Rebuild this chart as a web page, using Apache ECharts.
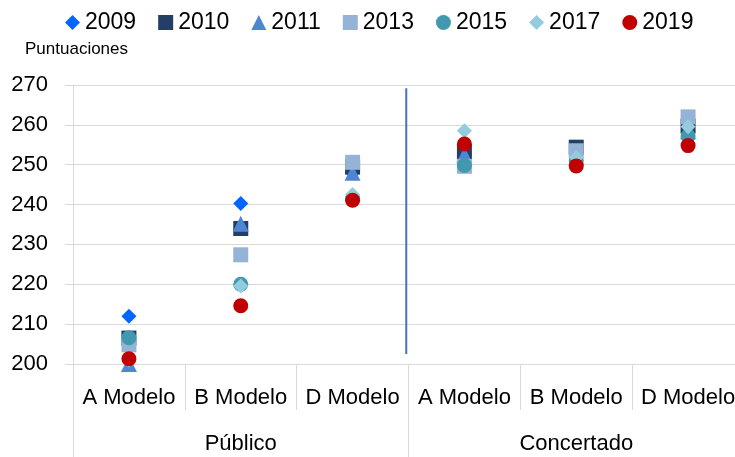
<!DOCTYPE html>
<html>
<head>
<meta charset="utf-8">
<title>Puntuaciones por modelo</title>
<script src="https://cdn.jsdelivr.net/npm/echarts@6/dist/echarts.min.js"></script>
<style>
  html, body { margin: 0; padding: 0; background: #fff; overflow: hidden; }
  /* the original's last column runs a few pixels past the right edge */
  #chart { width: 744px; height: 457px; }
</style>
</head>
<body>
<div id="chart"></div>
<script>
// ============================================================================
// Data
// ============================================================================

const models = ['A Modelo', 'B Modelo', 'D Modelo', 'A Modelo', 'B Modelo', 'D Modelo'];
const groups = ['Público', 'Concertado'];

const years = ['2009', '2010', '2011', '2013', '2015', '2017', '2019'];

// one value per model column, left to right
const s2009 = [212.0, 240.3, 248.0, 252.6, 253.2, 258.5];
const s2010 = [206.5, 234.0, 249.4, 253.3, 254.4, 259.7];
const s2011 = [200.0, 235.2, 248.0, 252.5, 251.8, 258.4];
const s2013 = [204.8, 227.4, 250.6, 249.6, 253.5, 262.0];
const s2015 = [206.6, 220.0, 241.5, 249.8, 251.0, 257.2];
const s2017 = [201.0, 219.6, 242.5, 258.5, 251.8, 259.5];
const s2019 = [201.3, 214.6, 241.1, 255.2, 249.7, 254.8];

// separator between Público and Concertado (position on a 0..6 column scale)
const separatorX = 2.98;
const separatorY = [269.2, 202.5];

const yTicks = { min: 200, max: 270, step: 10 };

// ============================================================================
// Styling
// ============================================================================

const FONT = 'Liberation Sans';
const GRID_GRAY = '#D9D9D9';

const SERIES_STYLE = [
  { data: s2009, symbol: 'diamond',  size: 15, color: '#0066FF' },
  { data: s2010, symbol: 'rect',     size: 15, color: '#243F66' },
  { data: s2011, symbol: 'triangle', size: 16, color: '#4F86D4' },
  { data: s2013, symbol: 'rect',     size: 15, color: '#95B3D7' },
  { data: s2015, symbol: 'circle',   size: 15, color: '#4198AF' },
  { data: s2017, symbol: 'diamond',  size: 15, color: '#93CDDD' },
  { data: s2019, symbol: 'circle',   size: 15, color: '#C00000' }
];

// ============================================================================
// Chart
// ============================================================================

const chart = echarts.init(document.getElementById('chart'), null, { renderer: 'canvas' });

const scatterSeries = SERIES_STYLE.map((s, i) => ({
  name: years[i],
  type: 'scatter',
  xAxisIndex: 0,
  yAxisIndex: 0,
  symbol: s.symbol,
  symbolSize: s.size,
  itemStyle: { color: s.color, opacity: 1 },
  data: s.data,
  z: 3 + i
}));

const option = {
  animation: false,
  textStyle: { fontFamily: FONT },

  grid: {
    left: 73,
    right: 0,
    top: 85,
    bottom: 93
  },

  legend: {
    data: years,
    left: 60,
    top: 6,
    itemWidth: 15,
    itemHeight: 15,
    itemGap: 22,
    textStyle: { fontSize: 23, color: '#000', fontFamily: FONT }
  },

  title: {
    text: 'Puntuaciones',
    left: 20,
    top: 36,
    textStyle: { fontSize: 17, fontWeight: 'normal', color: '#000', fontFamily: FONT }
  },

  xAxis: [
    {
      // models
      type: 'category',
      data: models,
      position: 'bottom',
      offset: 0,
      boundaryGap: true,
      axisLine: { show: true, lineStyle: { color: GRID_GRAY, width: 1 } },
      axisTick: { show: true, length: 46, interval: 0, lineStyle: { color: GRID_GRAY } },
      axisLabel: { interval: 0, margin: 23, fontSize: 22, color: '#000', fontFamily: FONT }
    },
    {
      // groups
      type: 'category',
      data: groups,
      position: 'bottom',
      offset: 0,
      boundaryGap: true,
      axisLine: { show: false },
      axisTick: { show: true, length: 93, interval: 0, lineStyle: { color: GRID_GRAY } },
      axisLabel: { interval: 0, margin: 69, fontSize: 22, color: '#000', fontFamily: FONT }
    },
    {
      // hidden helper scale for the separator line
      type: 'value',
      min: 0,
      max: 6,
      show: false
    }
  ],

  yAxis: {
    type: 'value',
    min: yTicks.min,
    max: yTicks.max,
    interval: yTicks.step,
    axisLine: { show: true, lineStyle: { color: GRID_GRAY } },
    axisTick: { show: true, length: 8, lineStyle: { color: GRID_GRAY } },
    axisLabel: { margin: 25, fontSize: 22, color: '#000', fontFamily: FONT },
    splitLine: { show: true, lineStyle: { color: GRID_GRAY, width: 1 } }
  },

  series: [
    {
      name: 'separator',
      type: 'line',
      xAxisIndex: 2,
      yAxisIndex: 0,
      data: separatorY.map(y => [separatorX, y]),
      symbol: 'none',
      silent: true,
      lineStyle: { color: '#4472C4', width: 2 },
      z: 1
    },
    ...scatterSeries
  ]
};

chart.setOption(option);
</script>
</body>
</html>
